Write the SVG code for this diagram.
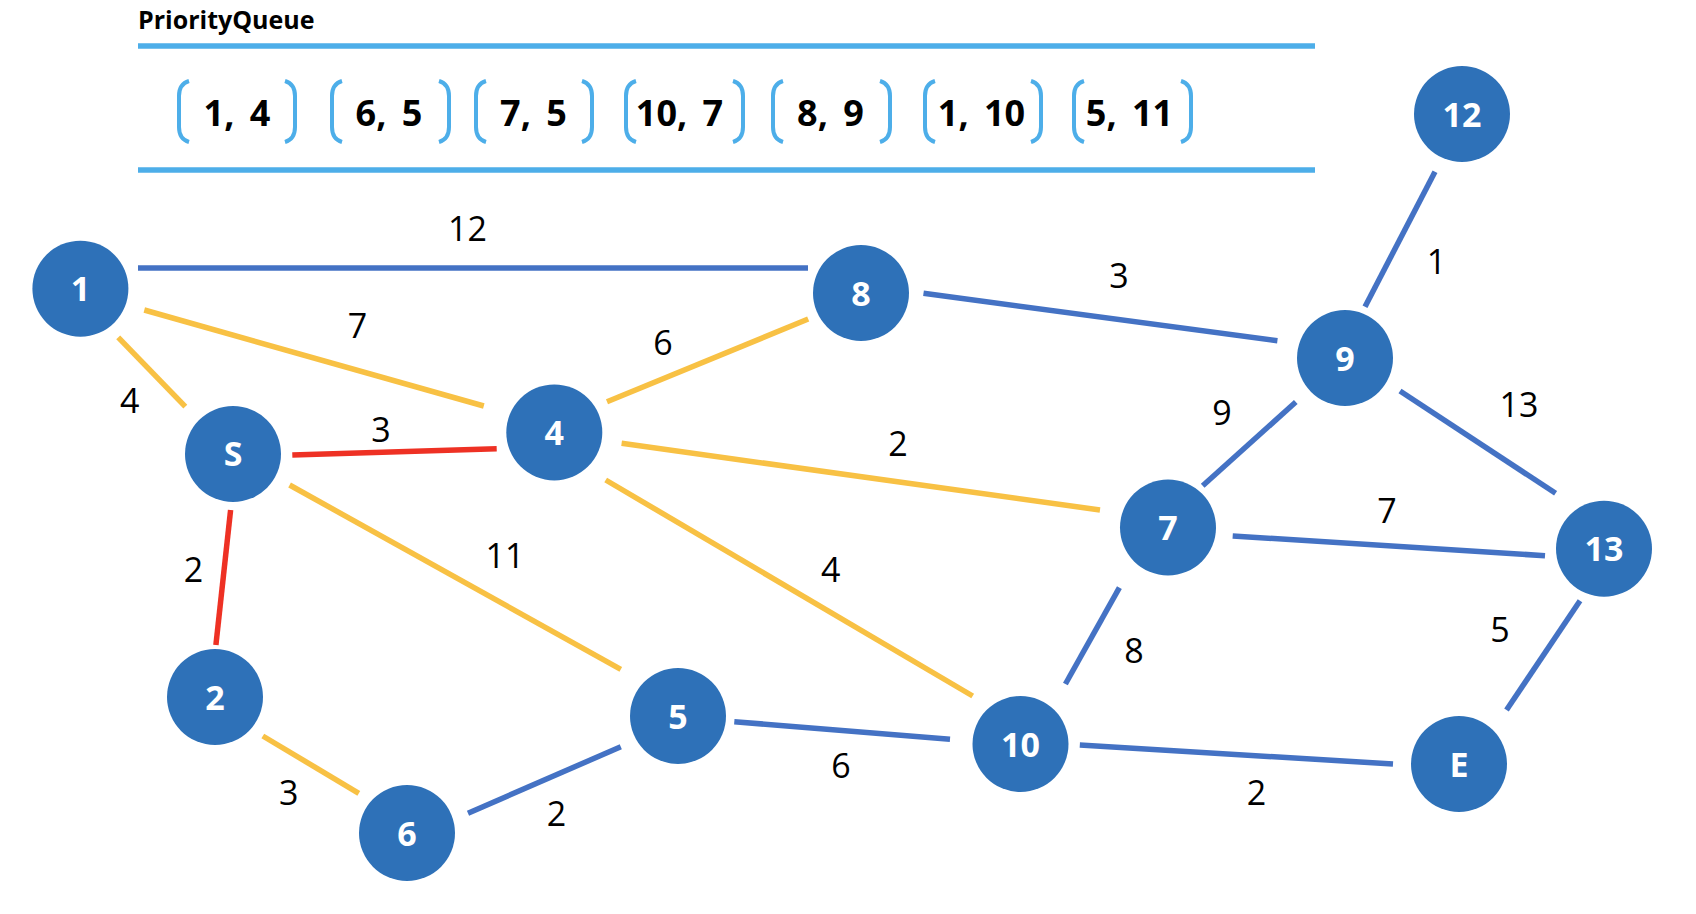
<svg xmlns="http://www.w3.org/2000/svg" width="1696" height="914" viewBox="0 0 1696 914">
<style>
.bg{fill:#ffffff}
.node circle{fill:#2E71B8}
.node text{fill:#ffffff;font-family:"Open Sans","Noto Sans",sans-serif;font-weight:bold;font-size:34px;text-anchor:middle}
.e{stroke-width:5.5;stroke-linecap:butt;fill:none}
.b{stroke:#4472C4}
.y{stroke:#F8C144}
.r{stroke:#EE3124}
.lbl{font-family:"Open Sans","Noto Sans",sans-serif;font-size:34px;fill:#000000;text-anchor:middle}
.rule{stroke:#4DAEE9;stroke-width:5.5}
.br{stroke:#4DAEE9;stroke-width:4;fill:none}
.q{font-family:"Open Sans","Noto Sans",sans-serif;font-weight:bold;font-size:36px;fill:#000000;text-anchor:middle;word-spacing:6px}
.title{font-family:"Open Sans","Noto Sans",sans-serif;font-weight:bold;font-size:25px;fill:#000000}
</style>
<rect class="bg" x="0" y="0" width="1696" height="914"/>
<g id="priority-queue">
<text class="title" x="138" y="29">PriorityQueue</text>
<line class="rule" x1="138" y1="46" x2="1315" y2="46"/>
<line class="rule" x1="138" y1="170" x2="1315" y2="170"/>
<g id="q1"><path class="br" d="M189,81 Q179,84 179,96 L179,127 Q179,139 189,142"/><path class="br" d="M285,81 Q295,84 295,96 L295,127 Q295,139 285,142"/><text class="q" x="237" y="126">1, 4</text></g>
<g id="q2"><path class="br" d="M342,81 Q332,84 332,96 L332,127 Q332,139 342,142"/><path class="br" d="M439,81 Q449,84 449,96 L449,127 Q449,139 439,142"/><text class="q" x="389" y="126">6, 5</text></g>
<g id="q3"><path class="br" d="M486,81 Q476,84 476,96 L476,127 Q476,139 486,142"/><path class="br" d="M582,81 Q592,84 592,96 L592,127 Q592,139 582,142"/><text class="q" x="533.5" y="126">7, 5</text></g>
<g id="q4"><path class="br" d="M636,81 Q626,84 626,96 L626,127 Q626,139 636,142"/><path class="br" d="M733,81 Q743,84 743,96 L743,127 Q743,139 733,142"/><text class="q" x="679.5" y="126">10, 7</text></g>
<g id="q5"><path class="br" d="M783,81 Q773,84 773,96 L773,127 Q773,139 783,142"/><path class="br" d="M880,81 Q890,84 890,96 L890,127 Q890,139 880,142"/><text class="q" x="830.5" y="126">8, 9</text></g>
<g id="q6"><path class="br" d="M935,81 Q925,84 925,96 L925,127 Q925,139 935,142"/><path class="br" d="M1031,81 Q1041,84 1041,96 L1041,127 Q1041,139 1031,142"/><text class="q" x="981.5" y="126">1, 10</text></g>
<g id="q7"><path class="br" d="M1084,81 Q1074,84 1074,96 L1074,127 Q1074,139 1084,142"/><path class="br" d="M1181,81 Q1191,84 1191,96 L1191,127 Q1191,139 1181,142"/><text class="q" x="1129.5" y="126">5, 11</text></g>
</g>
<g id="connectors">
<line class="e b" x1="138" y1="268" x2="808" y2="268"/>
<line class="e y" x1="144.3" y1="310" x2="483.8" y2="406"/>
<line class="e y" x1="118.2" y1="337.3" x2="185.3" y2="406.7"/>
<line class="e r" x1="292.3" y1="455" x2="496.7" y2="448.7"/>
<line class="e r" x1="230.6" y1="510" x2="215.9" y2="645"/>
<line class="e y" x1="289.6" y1="485" x2="620.8" y2="669.3"/>
<line class="e y" x1="262.8" y1="736" x2="358.8" y2="793.3"/>
<line class="e b" x1="468" y1="813.3" x2="620.8" y2="746.7"/>
<line class="e b" x1="734.3" y1="721.7" x2="950" y2="739.3"/>
<line class="e y" x1="607" y1="401.7" x2="808.2" y2="319"/>
<line class="e y" x1="621.6" y1="443.3" x2="1100" y2="510"/>
<line class="e y" x1="605.7" y1="480" x2="972.7" y2="696"/>
<line class="e b" x1="923.5" y1="293.3" x2="1277.4" y2="340.7"/>
<line class="e b" x1="1435" y1="171.7" x2="1365" y2="306.7"/>
<line class="e b" x1="1295.8" y1="402" x2="1202.7" y2="485.7"/>
<line class="e b" x1="1400" y1="391" x2="1555.6" y2="493.3"/>
<line class="e b" x1="1232.7" y1="536" x2="1545" y2="555.7"/>
<line class="e b" x1="1119.4" y1="587.7" x2="1065.4" y2="684"/>
<line class="e b" x1="1079.8" y1="745" x2="1393" y2="764"/>
<line class="e b" x1="1580" y1="600.7" x2="1506.5" y2="710"/>
<g id="edge-labels">
<text class="lbl" x="467.5" y="241">12</text>
<text class="lbl" x="357.4" y="338">7</text>
<text class="lbl" x="129.8" y="413">4</text>
<text class="lbl" x="381" y="442">3</text>
<text class="lbl" x="193.6" y="582">2</text>
<text class="lbl" x="505" y="568">11</text>
<text class="lbl" x="288.7" y="805">3</text>
<text class="lbl" x="556.5" y="826">2</text>
<text class="lbl" x="663" y="355">6</text>
<text class="lbl" x="898" y="456">2</text>
<text class="lbl" x="830.7" y="582">4</text>
<text class="lbl" x="1119" y="288">3</text>
<text class="lbl" x="1436.4" y="274">1</text>
<text class="lbl" x="1222" y="425">9</text>
<text class="lbl" x="1519" y="417">13</text>
<text class="lbl" x="1387" y="523">7</text>
<text class="lbl" x="1134" y="662.5">8</text>
<text class="lbl" x="1500" y="642">5</text>
<text class="lbl" x="1256.5" y="805">2</text>
<text class="lbl" x="841" y="778">6</text>
</g>
</g>
<g id="node-1" class="node"><circle cx="80.4" cy="288.7" r="48"/><text x="80.4" y="301">1</text></g>
<g id="node-S" class="node"><circle cx="233" cy="454" r="48"/><text x="233" y="466">S</text></g>
<g id="node-4" class="node"><circle cx="554.3" cy="432.4" r="48"/><text x="554.3" y="445">4</text></g>
<g id="node-8" class="node"><circle cx="861" cy="293" r="48"/><text x="861" y="306">8</text></g>
<g id="node-9" class="node"><circle cx="1345" cy="358" r="48"/><text x="1345" y="371">9</text></g>
<g id="node-12" class="node"><circle cx="1462" cy="114" r="48"/><text x="1462" y="127">12</text></g>
<g id="node-7" class="node"><circle cx="1168" cy="527.5" r="48"/><text x="1168" y="540">7</text></g>
<g id="node-13" class="node"><circle cx="1604" cy="548.7" r="48"/><text x="1604" y="561">13</text></g>
<g id="node-2" class="node"><circle cx="215" cy="697" r="48"/><text x="215" y="709.5">2</text></g>
<g id="node-5" class="node"><circle cx="678" cy="716" r="48"/><text x="678" y="728.5">5</text></g>
<g id="node-6" class="node"><circle cx="407" cy="833" r="48"/><text x="407" y="845.5">6</text></g>
<g id="node-10" class="node"><circle cx="1020.5" cy="744" r="48"/><text x="1020.5" y="756.5">10</text></g>
<g id="node-E" class="node"><circle cx="1459" cy="764" r="48"/><text x="1459" y="776.5">E</text></g>
</svg>
